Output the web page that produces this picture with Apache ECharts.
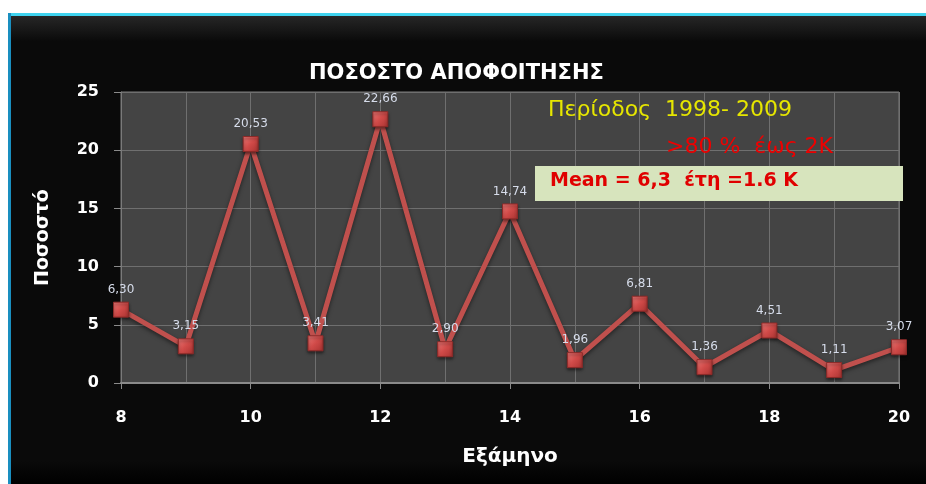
<!DOCTYPE html>
<html>
<head>
<meta charset="utf-8">
<script src="https://cdn.jsdelivr.net/npm/echarts@6/dist/echarts.min.js"></script>
<style>
  html, body { margin: 0; padding: 0; background: #fff; }
  #chart { width: 926px; height: 484px; }
</style>
</head>
<body>
<div id="chart"></div>
<script>
// Εξάμηνο (semester) and ποσοστό αποφοίτησης
var semesters = [8, 9, 10, 11, 12, 13, 14, 15, 16, 17, 18, 19, 20];
var percents = [6.30, 3.15, 20.53, 3.41, 22.66, 2.90, 14.74, 1.96, 6.81, 1.36, 4.51, 1.11, 3.07];
var yTicks = [0, 5, 10, 15, 20, 25];

var lineData = semesters.map(function (s, i) { return [s, percents[i]]; });

var chart = echarts.init(document.getElementById('chart'));
var font = '"DejaVu Sans", Verdana, sans-serif';
var gridLine = { color: '#6f6f6f', width: 1 };

var option = {
  backgroundColor: '#ffffff',
  animation: false,
  title: {
    text: 'ΠΟΣΟΣΤΟ ΑΠΟΦΟΙΤΗΣΗΣ',
    left: 304,
    top: 58,
    textStyle: { color: '#ffffff', fontSize: 21, fontWeight: 'bold', fontFamily: font }
  },
  graphic: [
    // dark panel with coloured borders
    { type: 'rect', z: -10, shape: { x: 8, y: 13, width: 918, height: 471 },
      style: { fill: new echarts.graphic.LinearGradient(0, 0, 0, 1, [
        { offset: 0, color: '#2a2a2a' }, { offset: 0.06, color: '#0a0a0a' },
        { offset: 0.95, color: '#0a0a0a' }, { offset: 1, color: '#000000' }]) } },
    { type: 'rect', z: -9, shape: { x: 8, y: 13, width: 918, height: 3 }, style: { fill: '#3fd3ef' } },
    { type: 'rect', z: -9, shape: { x: 8, y: 13, width: 3, height: 471 }, style: { fill: '#1a8fc0' } },
    // annotations
    { type: 'text', z: 10, left: 548, top: 99,
      style: { text: 'Περίοδος  1998- 2009', fill: '#e6e600', fontSize: 22, fontFamily: font } },
    { type: 'text', z: 10, left: 666, top: 136,
      style: { text: '>80 %  έως 2Κ', fill: '#ee0000', fontSize: 22, fontFamily: font } },
    { type: 'rect', z: 10, shape: { x: 535, y: 166, width: 368, height: 35 },
      style: { fill: '#d7e4bd' } },
    { type: 'text', z: 11, left: 550, top: 172,
      style: { text: 'Mean = 6,3  έτη =1.6 K', fill: '#e00000', fontSize: 19, fontWeight: 'bold', fontFamily: font } }
  ],
  grid: {
    left: 121, right: 27, top: 92, bottom: 101,
    show: true, backgroundColor: '#444444', borderColor: '#7a7a7a', borderWidth: 1
  },
  xAxis: {
    type: 'value', min: 8, max: 20, interval: 2,
    name: 'Εξάμηνο', nameLocation: 'middle', nameGap: 64,
    nameTextStyle: { color: '#ffffff', fontSize: 20, fontWeight: 'bold', fontFamily: font },
    axisLine: { show: true, lineStyle: { color: '#8a8a8a', width: 2 } },
    axisTick: { show: true, length: 6, lineStyle: { color: '#8a8a8a' } },
    axisLabel: { color: '#ffffff', fontSize: 16, fontWeight: 'bold', fontFamily: font, margin: 27 },
    splitLine: { show: true, lineStyle: gridLine },
    minorTick: { show: false, splitNumber: 2 },
    minorSplitLine: { show: true, lineStyle: gridLine }
  },
  yAxis: {
    type: 'value', min: yTicks[0], max: yTicks[yTicks.length - 1], interval: 5,
    name: 'Ποσοστό', nameLocation: 'middle', nameGap: 68,
    nameTextStyle: { color: '#ffffff', fontSize: 19, fontWeight: 'bold', fontFamily: font },
    axisLine: { show: true, lineStyle: { color: '#7a7a7a' } },
    axisTick: { show: true, length: 7, lineStyle: { color: '#8a8a8a' } },
    axisLabel: { color: '#ffffff', fontSize: 16, fontWeight: 'bold', fontFamily: font, margin: 22 },
    splitLine: { show: true, lineStyle: gridLine }
  },
  series: [{
    type: 'line',
    data: lineData,
    symbol: 'rect',
    symbolSize: 15,
    lineStyle: { color: '#c0504d', width: 5, shadowColor: 'rgba(0,0,0,0.5)', shadowBlur: 4, shadowOffsetY: 2 },
    itemStyle: {
      color: new echarts.graphic.LinearGradient(0, 0, 1, 1, [
        { offset: 0, color: '#ef7a78' }, { offset: 0.5, color: '#d04a48' }, { offset: 1, color: '#a83230' }]),
      borderColor: '#8c2a28', borderWidth: 1,
      shadowColor: 'rgba(0,0,0,0.5)', shadowBlur: 3, shadowOffsetY: 2
    },
    label: {
      show: true, position: 'top', distance: 6,
      color: '#d6dcea', fontSize: 12, fontFamily: font,
      formatter: function (p) { return p.value[1].toFixed(2).replace('.', ','); }
    }
  }]
};
chart.setOption(option);
</script>
</body>
</html>
